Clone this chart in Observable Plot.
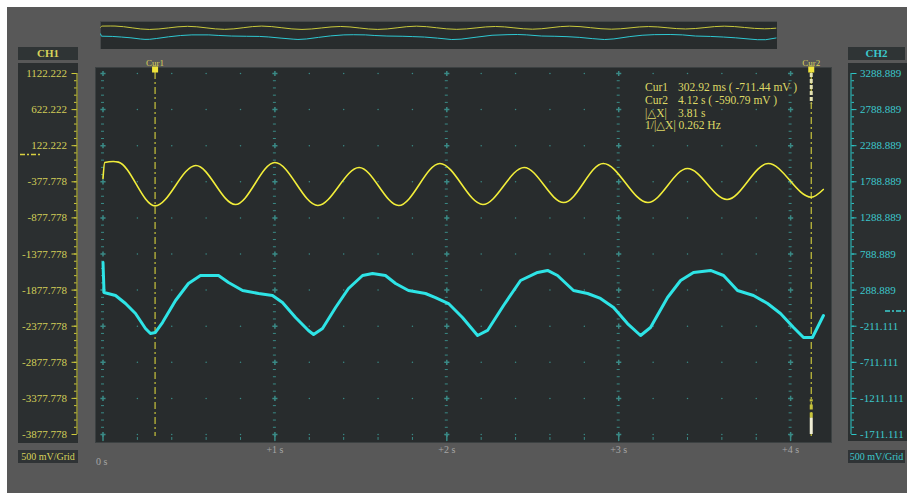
<!DOCTYPE html>
<html>
<head>
<meta charset="utf-8">
<script src="https://cdn.jsdelivr.net/npm/d3@7"></script>
<script src="https://cdn.jsdelivr.net/npm/@observablehq/plot@0.6"></script>
<style>
html,body{margin:0;padding:0;background:#ffffff;}
#root{position:relative;width:907px;height:493px;overflow:hidden;background:#ffffff;font-family:"Liberation Serif","DejaVu Serif",serif;}
.abs{position:absolute;box-sizing:border-box;}
#bg{left:7px;top:7px;width:900px;height:486px;background:#585858;}
.hdr{height:13px;background:#2f3435;font-weight:bold;font-size:11px;line-height:13px;text-align:center;}
.panel{background:#2b2f30;}
.grid{height:13px;background:#2f3335;font-size:10px;line-height:13px;text-align:center;}
.y1{color:#d6d25a;}
.c2{color:#3cc8cc;}
#readout{left:645px;top:81px;color:#ded966;font-size:11.5px;line-height:12.8px;white-space:pre;}
#readout .k{position:absolute;left:0;}
#readout .v{position:absolute;left:33px;}
svg{position:absolute;left:0;top:0;}
</style>
</head>
<body>
<div id="root">
  <div id="bg" class="abs"></div>
  <div class="abs hdr y1" style="left:18px;top:47px;width:60px;">CH1</div>
  <div class="abs panel" style="left:18px;top:63px;width:60px;height:380px;"></div>
  <div class="abs grid y1" style="left:18px;top:450px;width:60px;">500 mV/Grid</div>
  <div class="abs hdr c2" style="left:848px;top:47px;width:57px;">CH2</div>
  <div class="abs panel" style="left:848px;top:63px;width:59px;height:378px;"></div>
  <div class="abs grid c2" style="left:848px;top:450px;width:57px;">500 mV/Grid</div>
  <div id="ov" class="abs" style="left:100px;top:21px;width:677px;height:28px;"></div>
</div>
<script>
// ---- data ----
const ch1Time   = [0, 0.01, 0.06, 0.09, 0.303, 0.54, 0.77, 1.00, 1.25, 1.49, 1.72, 1.96, 2.21, 2.45, 2.68, 2.91, 3.17, 3.40, 3.63, 3.87, 4.12, 4.19];
const ch1Values = [-332, -110, -96, -105, -711, -152, -692, -110, -706, -180, -706, -124, -692, -180, -665, -124, -665, -193, -623, -124, -591, -484];

const ch2Time   = [0, 0.006, 0.073, 0.131, 0.189, 0.247, 0.276, 0.305, 0.346, 0.422, 0.497, 0.567, 0.672, 0.730, 0.812, 0.905, 0.986, 1.044, 1.120, 1.195, 1.225, 1.277, 1.353, 1.428, 1.510, 1.568, 1.643, 1.702, 1.777, 1.876, 1.934, 2.010, 2.091, 2.179, 2.237, 2.330, 2.429, 2.528, 2.586, 2.644, 2.737, 2.819, 2.894, 2.970, 3.051, 3.127, 3.185, 3.284, 3.360, 3.435, 3.534, 3.610, 3.691, 3.784, 3.866, 3.941, 4.017, 4.075, 4.127, 4.191];
const ch2Values = [671, 256, 214, 103, -35, -243, -312, -298, -160, 145, 380, 491, 491, 394, 283, 242, 214, 117, -90, -270, -326, -243, 48, 311, 491, 519, 491, 380, 283, 242, 186, 103, -90, -340, -270, 76, 422, 533, 561, 491, 283, 242, 173, 48, -174, -340, -229, 186, 422, 533, 561, 491, 283, 214, 103, -35, -229, -367, -367, -63];

const ch1TickLabels = [1122.222, 622.222, 122.222, -377.778, -877.778, -1377.778, -1877.778, -2377.778, -2877.778, -3377.778, -3877.778];
const ch2TickLabels = [3288.889, 2788.889, 2288.889, 1788.889, 1288.889, 788.889, 288.889, -211.111, -711.111, -1211.111, -1711.111];
const timeTicks = [0, 1, 2, 3, 4];
const timeSpan = [0, 4.2];
const cursorNames = ["Cur1", "Cur2"];
const cursorTimes = [0.30292, 4.12];
const readoutKeys = ["Cur1", "Cur2", "|\u25B3X|"];
const readoutVals = ["302.92 ms ( -711.44 mV )", "4.12 s ( -590.79 mV )", "3.81 s"];
const readoutLast = "1/|\u25B3X| 0.262 Hz";

// ---- derived structures ----
const serif = '"Liberation Serif", "DejaVu Serif", serif';
const ch1 = ch1Time.map((t, i) => ({t, v: ch1Values[i]}));
const ch2 = ch2Time.map((t, i) => ({t, v: ch2Values[i]}));
const ch1Domain = [ch1TickLabels[ch1TickLabels.length - 1], ch1TickLabels[0]];
const ch2Domain = [ch2TickLabels[ch2TickLabels.length - 1], ch2TickLabels[0]];
const ch2Offset = ch2TickLabels[0] - ch1TickLabels[0];
const minorOf = (dom) => d3.range(0, 51).map(k => dom[0] + k * 100);
const ch1Minor = minorOf(ch1Domain);
const ch2Minor = minorOf(ch2Domain);
const gridCols = d3.range(0, 21).map(i => +(i * 0.2).toFixed(1));
const minorCols = gridCols.filter(c => !timeTicks.includes(c));
const gridDots = minorCols.flatMap(c => ch1TickLabels.map(r => ({t: c, v: r})));
const plusPts = timeTicks.flatMap(c => ch1TickLabels.map(r => ({t: c, v: r})));
const dashPts = timeTicks.flatMap(c => ch1Minor.filter(m => !ch1TickLabels.some(r => Math.abs(r - m) < 1)).map(m => ({t: c, v: m})));
const cursors = cursorNames.map((name, i) => ({name, t: cursorTimes[i]}));

const gridColor = "#3a8a86";
const ch1Axis = "#cfcb3c", ch1Label = "#d2ce58";
const ch2Axis = "#2cc6c6", ch2Label = "#3cc8cc";
const common = {
  width: 907, height: 493, marginLeft: 95, marginRight: 76, marginTop: 67, marginBottom: 51,
  style: {background: "transparent", fontFamily: serif, overflow: "visible"},
};

const main = Plot.plot({
  ...common,
  x: {domain: timeSpan, insetLeft: 7.5, insetRight: 6.5, label: null},
  y: {domain: ch1Domain, insetTop: 6, insetBottom: 8, label: null},
  marks: [
    Plot.frame({fill: "#282c2d", stroke: "#3c4142"}),
    Plot.dot(gridDots, {x: "t", y: "v", r: 0.75, fill: gridColor}),
    Plot.ruleY(dashPts, {x1: "t", x2: "t", y: "v", insetLeft: -1.5, insetRight: -1.5, stroke: gridColor}),
    Plot.dot(plusPts, {x: "t", y: "v", symbol: "plus", r: 1.8, stroke: gridColor}),
    Plot.ruleX(minorCols, {x: d => d, y1: ch1Domain[0], y2: ch1Domain[0] - 40, dy: 3, stroke: gridColor}),
    Plot.vector(timeTicks, {x: d => d, y: ch1Domain[0], length: 6, anchor: "end", r: 1.5, stroke: gridColor}),
    // CH1 axis
    Plot.ruleX([timeSpan[0]], {y1: ch1Domain[0], y2: ch1Domain[1], dx: -26, stroke: ch1Axis}),
    Plot.axisY(ch1Minor, {anchor: "left", dx: -18.5, tickSize: 2.5, fill: "none", stroke: ch1Axis, label: null}),
    Plot.axisY(ch1TickLabels, {anchor: "left", dx: -18.5, tickSize: 5, tickPadding: 5, tickFormat: d => d.toFixed(3), fill: ch1Label, stroke: ch1Axis, fontSize: 11, label: null}),
    Plot.ruleY([0], {x1: timeSpan[0], x2: timeSpan[0], insetLeft: -82.5, insetRight: 62.5, stroke: "#d8d040", strokeWidth: 1.5, strokeDasharray: "5,2,2,2"}),
    // time axis
    Plot.axisX(timeTicks.filter(d => d > 0), {anchor: "bottom", tickSize: 0, tickPadding: 3, tickFormat: d => `+${d} s`, fill: "#a6a6a6", fontSize: 10, label: null}),
    Plot.axisX([timeTicks[0]], {anchor: "bottom", tickSize: 0, tickPadding: 15, tickFormat: () => "0 s", textAnchor: "start", dx: -7, fill: "#a6a6a6", fontSize: 10, label: null}),
    // cursors
    Plot.ruleX(cursors, {x: "t", stroke: "#c8c43c", strokeDasharray: "7,3,2,3", strokeWidth: 1.2, insetTop: 5, insetBottom: 6}),
    Plot.ruleX([cursors[1]], {x: "t", y1: ch1Domain[1], y2: ch1Domain[1] - 420, stroke: "#e4e2b0", strokeWidth: 3, strokeDasharray: "4,2"}),
    Plot.ruleX([cursors[1]], {x: "t", y1: ch1Domain[0], y2: ch1Domain[0] + 230, stroke: "#f0eed6", strokeWidth: 3}),
    Plot.ruleX([cursors[1]], {x: "t", y1: ch1Domain[0] + 230, y2: ch1Domain[0] + 480, stroke: "#c8c43c", strokeWidth: 3, strokeDasharray: "5,3"}),
    Plot.dot(cursors, {x: "t", frameAnchor: "top", dy: 2, symbol: "square", r: 3.4, fill: "#f0e43c"}),
    Plot.text(cursors, {x: "t", text: "name", frameAnchor: "top", dy: -8, fontSize: 9, fill: "#d8d05a"}),
    // CH1 trace
    Plot.line(ch1, {x: "t", y: "v", stroke: "#f2ee3a", strokeWidth: 1.6, curve: "monotone-x"})
  ]
});

const second = Plot.plot({
  ...common,
  x: {domain: timeSpan, insetLeft: 7.5, insetRight: 6.5, label: null, axis: null},
  y: {domain: ch2Domain, insetTop: 6, insetBottom: 8, label: null},
  marks: [
    Plot.ruleX([timeSpan[1]], {y1: ch2Domain[0], y2: ch2Domain[1], dx: 26, stroke: ch2Axis}),
    Plot.axisY(ch2Minor, {anchor: "right", dx: 19.5, tickSize: 2.5, fill: "none", stroke: ch2Axis, label: null}),
    Plot.axisY(ch2TickLabels, {anchor: "right", dx: 19.5, tickSize: 5, tickPadding: 4, tickFormat: d => d.toFixed(3), fill: ch2Label, stroke: ch2Axis, fontSize: 11, label: null}),
    Plot.ruleY([0], {x1: timeSpan[1], x2: timeSpan[1], insetLeft: 60.5, insetRight: -82.5, stroke: "#3cd0d0", strokeWidth: 1.5, strokeDasharray: "5,2,2,2"}),
    Plot.line(ch2, {x: "t", y: "v", stroke: "#2ee4e6", strokeWidth: 3})
  ]
});

const overview = Plot.plot({
  width: 677, height: 28, margin: 0,
  style: {background: "transparent", position: "static"},
  x: {domain: timeSpan, axis: null},
  y: {domain: [-4280, 707], axis: null},
  marks: [
    Plot.frame({fill: "#282c2d", stroke: "#474a4b"}),
    Plot.line(ch1, {x: "t", y: "v", stroke: "#c8c83c", strokeWidth: 1, curve: "monotone-x"}),
    Plot.line(ch2, {x: "t", y: d => d.v - ch2Offset, stroke: "#2ec8d2", strokeWidth: 1})
  ]
});

const root = document.getElementById("root");
root.appendChild(main);
root.appendChild(second);
document.getElementById("ov").appendChild(overview);

const ro = document.createElement("div");
ro.id = "readout"; ro.className = "abs";
ro.style.width = "190px"; ro.style.height = "60px";
readoutKeys.forEach((k, i) => {
  const a = document.createElement("div"); a.className = "k"; a.style.top = (i * 12.8) + "px"; a.textContent = k; ro.appendChild(a);
  const b = document.createElement("div"); b.className = "v"; b.style.top = (i * 12.8) + "px"; b.textContent = readoutVals[i]; ro.appendChild(b);
});
const last = document.createElement("div"); last.className = "k"; last.style.top = (3 * 12.8) + "px"; last.textContent = readoutLast; ro.appendChild(last);
root.appendChild(ro);
</script>
</body>
</html>
